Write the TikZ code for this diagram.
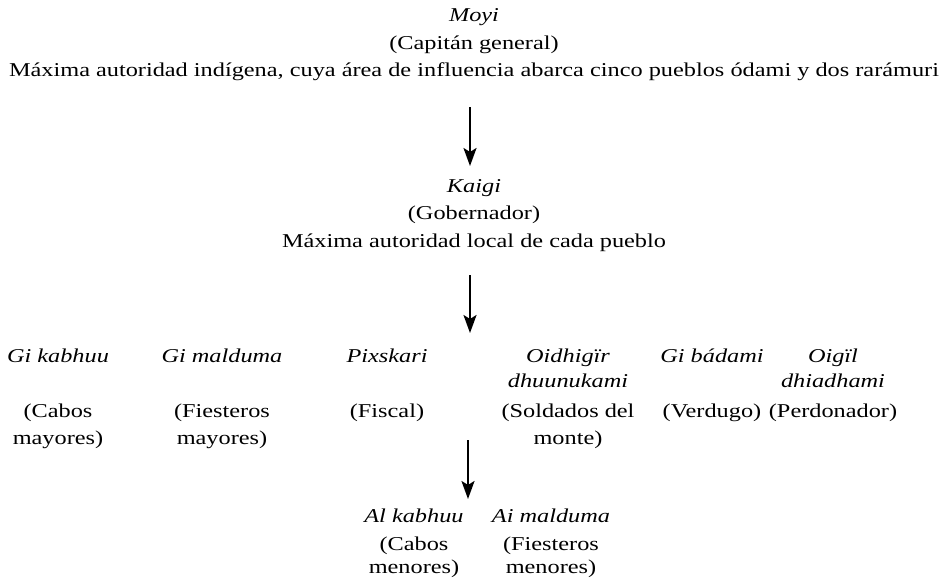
\documentclass[tikz,border=0pt]{standalone}
\usepackage{fontspec}
\setmainfont{Liberation Serif}[FakeStretch=1.24]
\usetikzlibrary{arrows.meta}
\begin{document}
\begin{tikzpicture}[x=1pt,y=-1pt,
  txt/.style={anchor=base,inner sep=0pt,font=\fontsize{19.6}{24}\selectfont},
  nm/.style={anchor=base,inner sep=0pt,font=\fontsize{19.6}{24}\selectfont\itshape},
  arr/.style={line width=2.4pt,-{Stealth[length=18pt,width=13pt,inset=4pt]}}]
\useasboundingbox (0,0) rectangle (948,578);
% top
\node[nm]  (moyi) at (474,22) {Moyi};
\node[txt] (cap)  at (474,50) {(Capitán general)};
\node[txt] (maxa) at (474,77) {Máxima autoridad indígena, cuya área de influencia abarca cinco pueblos ódami y dos rarámuri};
\coordinate (a1s) at (470,107);
\coordinate (a1e) at (470,166);
\draw[arr] (a1s) -- (a1e);
% kaigi
\node[nm]  (kaigi) at (474,192) {Kaigi};
\node[txt] (gob)   at (474,219) {(Gobernador)};
\node[txt] (local) at (474,247) {Máxima autoridad local de cada pueblo};
\coordinate (a2s) at (470,275);
\coordinate (a2e) at (470,333);
\draw[arr] (a2s) -- (a2e);
% row
\node[nm]  (n1) at (58,362) {Gi kabhuu};
\node[txt] (r1a) at (58,417) {(Cabos};
\node[txt] (r1b) at (58,444) {mayores)};
\node[nm]  (n2) at (222,362) {Gi malduma};
\node[txt] (r2a) at (222,417) {(Fiesteros};
\node[txt] (r2b) at (222,444) {mayores)};
\node[nm]  (n3) at (387,362) {Pixskari};
\node[txt] (r3a) at (387,417) {(Fiscal)};
\node[nm]  (n4a) at (568,362) {Oidhigïr};
\node[nm]  (n4b) at (568,387) {dhuunukami};
\node[txt] (r4a) at (568,417) {(Soldados del};
\node[txt] (r4b) at (568,444) {monte)};
\node[nm]  (n5) at (712,362) {Gi bádami};
\node[txt] (r5a) at (712,417) {(Verdugo)};
\node[nm]  (n6a) at (833,362) {Oigïl};
\node[nm]  (n6b) at (833,387) {dhiadhami};
\node[txt] (r6a) at (833,417) {(Perdonador)};
\coordinate (a3s) at (468,440);
\coordinate (a3e) at (468,499);
\draw[arr] (a3s) -- (a3e);
% bottom
\node[nm]  (b1) at (414,522) {Al kabhuu};
\node[txt] (s1a) at (414,550) {(Cabos};
\node[txt] (s1b) at (414,573) {menores)};
\node[nm]  (b2) at (551,522) {Ai malduma};
\node[txt] (s2a) at (551,550) {(Fiesteros};
\node[txt] (s2b) at (551,573) {menores)};
\end{tikzpicture}
\end{document}
